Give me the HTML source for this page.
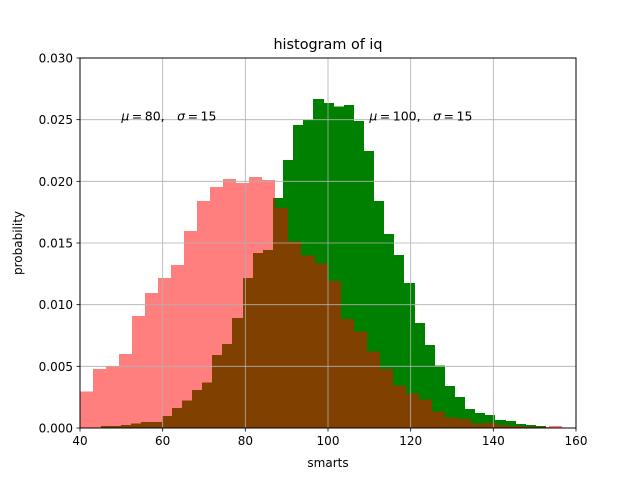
<!DOCTYPE html>
<html><head><meta charset="utf-8"><style>
body{margin:0;background:#fff}
svg text{font-family:"DejaVu Sans","Liberation Sans",sans-serif}
</style></head><body>
<svg id="chart" width="640" height="480" viewBox="0 0 640 480" xmlns="http://www.w3.org/2000/svg">
<rect width="640" height="480" fill="#fff"/>
<g id="bars" shape-rendering="crispEdges"></g>
<g id="grid"></g>
<rect x="80" y="58" width="496" height="370" fill="none" stroke="#000" stroke-width="1"/>
<g id="ticks"></g>
<text x="328" y="49" font-size="14.4" text-anchor="middle">histogram of iq</text>
<text x="328" y="467" font-size="12" text-anchor="middle">smarts</text>
<text transform="translate(22,243) rotate(-90)" font-size="12" text-anchor="middle">probability</text>
<text id="ann1" font-size="12.5" xml:space="preserve"></text>
<text id="ann2" font-size="12.5" xml:space="preserve"></text>
</svg>
<script>
const greenStart = 45.08, greenWidth = 2.447;
const greenValues = [0.00016,0.00016,0.00024,0.00035,0.00049,0.00049,0.00097,0.00162,0.00222,0.00308,0.00368,0.00592,0.00681,0.00892,0.01216,0.01419,0.01443,0.01865,0.02173,0.02457,0.02503,0.02668,0.02635,0.02605,0.02619,0.0249,0.02246,0.0184,0.01573,0.01403,0.01176,0.00851,0.00673,0.00508,0.0034,0.00251,0.00154,0.00122,0.00105,0.00065,0.00057,0.00032,0.00024,0.00016];
const redStart = 40, redWidth = 3.152;
const redValues = [0.00294,0.00478,0.00497,0.006,0.00908,0.01095,0.01216,0.01322,0.01597,0.0184,0.01954,0.02019,0.01986,0.02035,0.0201,0.01784,0.01511,0.01398,0.01333,0.01192,0.00884,0.00781,0.00619,0.00478,0.00343,0.00278,0.0023,0.00132,0.00084,0.00073,0.00038,0.0004,0.00024,0.00017,0.00012,0.00008,0.00016];
const xTicks = [40,60,80,100,120,140,160];
const yTicks = [0,0.005,0.010,0.015,0.020,0.025,0.030];
const yTickLabels = ["0.000","0.005","0.010","0.015","0.020","0.025","0.030"];
const annotations = [{x:50,y:0.025,mu:"80"},{x:110,y:0.025,mu:"100"}];

const X0=80,X1=576,Y0=428,Y1=58;
const xs = v => X0+(v-40)/(160-40)*(X1-X0);
const ys = v => Y0-(v-0)/(0.03)*(Y0-Y1);
const NS="http://www.w3.org/2000/svg";
function mk(tag,attrs,parent){const e=document.createElementNS(NS,tag);for(const k in attrs)e.setAttribute(k,attrs[k]);parent.appendChild(e);return e;}
const bars=document.getElementById('bars');
function drawHist(start,w,vals,fill,op,name){
  vals.forEach((v,i)=>{
    const a=Math.round(xs(start+i*w)), b=Math.round(xs(start+(i+1)*w));
    const r=mk('rect',{x:a,y:ys(v),width:b-a,height:Y0-ys(v),fill:fill,'fill-opacity':op},bars);
    
    
  });
}
drawHist(greenStart,greenWidth,greenValues,'#008000',1,'green-bar');
drawHist(redStart,redWidth,redValues,'#ff0000',0.5,'red-bar');
const grid=document.getElementById('grid'), ticks=document.getElementById('ticks');
xTicks.forEach(t=>{
  const x=xs(t);
  const g=mk('line',{x1:x,x2:x,y1:Y1,y2:Y0,stroke:'#b0b0b0','stroke-width':0.8},grid);
  
  
  const tk=mk('line',{x1:x,x2:x,y1:Y0,y2:Y0+3.5,stroke:'#000','stroke-width':0.8},ticks);
  
  
  const tl=mk('text',{x:x,y:Y0+17,'font-size':12,'text-anchor':'middle'},ticks);
  tl.textContent=t;
  
  
});
yTicks.forEach((t,i)=>{
  const y=ys(t);
  const g=mk('line',{x1:X0,x2:X1,y1:y,y2:y,stroke:'#b0b0b0','stroke-width':0.8},grid);
  
  
  const tk=mk('line',{x1:X0-3.5,x2:X0,y1:y,y2:y,stroke:'#000','stroke-width':0.8},ticks);
  
  
  const tl=mk('text',{x:X0-7,y:y+4.5,'font-size':12,'text-anchor':'end'},ticks);
  tl.textContent=yTickLabels[i];
  
  
});
['ann1','ann2'].forEach((id,i)=>{
  const a=annotations[i], el=document.getElementById(id);
  el.setAttribute('x',xs(a.x)); el.setAttribute('y',ys(a.y)+1);
  el.innerHTML='<tspan font-style="italic">μ</tspan>\u2009=\u2009'+a.mu+',\u2003<tspan font-style="italic">σ</tspan>\u2009=\u200915';
});
</script>
</body></html>
